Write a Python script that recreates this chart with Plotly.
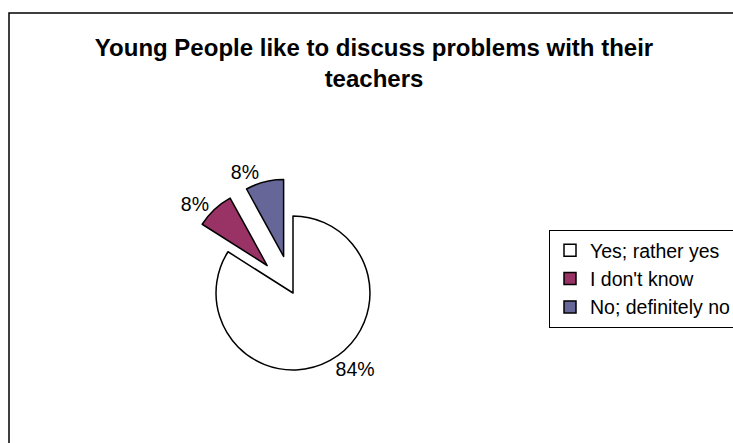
import plotly.graph_objects as go

labels = ["Yes; rather yes", "I don't know", "No; definitely no"]
values = [84, 8, 8]
colors = ["#FFFFFF", "#993366", "#666699"]
pulls = [0, 0.49, 0.49]
title_text = "Young People like to discuss problems with their<br>teachers"

W, H = 733, 443
FONT = "Arial, Liberation Sans, sans-serif"

fig = go.Figure(go.Pie(
    labels=labels,
    values=values,
    sort=False,
    direction="clockwise",
    rotation=0,
    pull=pulls,
    marker=dict(colors=colors, line=dict(color="#000000", width=1.5)),
    textposition="outside",
    texttemplate="%{percent:.0%}",
    textfont=dict(family=FONT, size=19.5, color="#000000"),
    domain=dict(x=[178.3 / W, 407.7 / W], y=[35.3 / H, 264.7 / H]),
    hoverinfo="label+percent",
))

fig.update_layout(
    width=W, height=H,
    margin=dict(l=0, r=0, t=0, b=0, autoexpand=False),
    paper_bgcolor="#FFFFFF",
    plot_bgcolor="#FFFFFF",
    font=dict(family=FONT, color="#000000"),
    title=dict(
        text=title_text,
        x=374 / W, xanchor="center", xref="paper",
        y=1 - 56 / H, yanchor="top", yref="container",
        font=dict(family=FONT, size=24, color="#000000", weight="bold"),
    ),
    showlegend=True,
    legend=dict(
        xref="paper", yref="paper",
        x=549 / W, xanchor="left",
        y=1 - 230 / H, yanchor="top",
        bordercolor="#000000", borderwidth=1,
        bgcolor="#FFFFFF",
        font=dict(family=FONT, size=19.5, color="#000000"),
    ),
    shapes=[dict(
        type="rect", xref="paper", yref="paper",
        x0=9 / W, x1=1.05, y0=-0.05, y1=1 - 13 / H,
        line=dict(color="#000000", width=1.5),
        fillcolor="rgba(0,0,0,0)", layer="below",
    )],
)

fig.write_html("out.html")
